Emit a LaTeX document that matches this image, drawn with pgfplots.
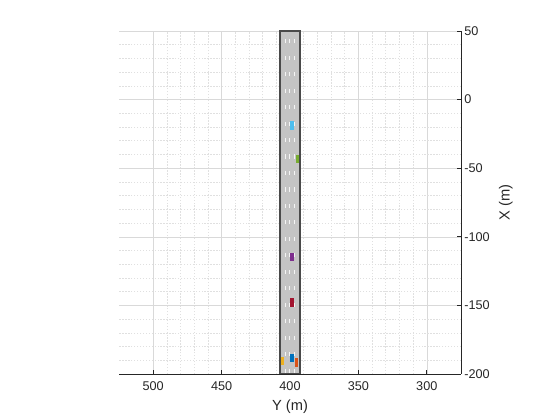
\documentclass[border=0pt]{standalone}
\usepackage{pgfplots}
\pgfplotsset{compat=1.18}
\usepackage{fontspec}
\setmainfont{Liberation Sans}
\definecolor{axcol}{HTML}{262626}
\definecolor{roadfill}{HTML}{C4C4C4}
\definecolor{roadedge}{HTML}{4A4A4A}
\definecolor{mblue}{HTML}{0072BD}
\definecolor{morange}{HTML}{D95319}
\definecolor{myellow}{HTML}{EDB120}
\definecolor{mpurple}{HTML}{7E2F8E}
\definecolor{mgreen}{HTML}{77AC30}
\definecolor{mcyan}{HTML}{4DBEEE}
\definecolor{mred}{HTML}{A2142F}

\begin{document}
\begin{tikzpicture}
% page = 560x420 px at 0.75pt per px
\useasboundingbox (-89.25pt,-34.5pt) rectangle (330.75pt,280.5pt);
\begin{axis}[
  scale only axis,
  width=256.5pt, height=257.25pt,
  x dir=reverse,
  xmin=275, xmax=525, ymin=-200, ymax=50,
  axis x line=bottom, axis y line=right,
  axis line style={-, axcol, line width=0.6pt},
  xtick={300,350,...,500}, ytick={-200,-150,...,50},
  minor tick num=4,
  tick align=inside, major tick length=3pt, minor tick length=0pt,
  tick style={axcol, line width=0.5pt},
  grid=both,
  major grid style={line width=0.4pt, black!15},
  minor grid style={line width=0.4pt, black!12, dash pattern=on 1pt off 1.2pt},
  /pgf/number format/assume math mode=true,
  tick label style={font=\fontsize{9.5}{11}\selectfont, text=axcol},
  xticklabel style={yshift=-2pt},
  yticklabel style={xshift=-1pt},
  xlabel={Y (m)}, ylabel={X (m)},
  label style={font=\fontsize{11}{13}\selectfont, text=axcol},
  clip=true,
]
% road surface
\addplot[fill=roadfill, draw=roadedge, line width=1.3pt]
  coordinates {(392.7,-200) (407.3,-200) (407.3,50) (392.7,50)} -- cycle;
% lane markings (3 m dash, 9 m gap)
\addplot[white!92!gray, line width=0.75pt, dash pattern=on 3.1pt off 9.25pt, dash phase=-1pt]
  coordinates {(396.35,-200) (396.35,50)};
\addplot[white!92!gray, line width=0.75pt, dash pattern=on 3.1pt off 9.25pt, dash phase=-1pt]
  coordinates {(400,-200) (400,50)};
\addplot[white!92!gray, line width=0.75pt, dash pattern=on 3.1pt off 9.25pt, dash phase=-1pt]
  coordinates {(403.65,-200) (403.65,50)};
% vehicles
\addplot[fill=mcyan, draw=none]
  coordinates {(397.3,-21.9) (399.7,-21.9) (399.7,-15.9) (397.3,-15.9)} -- cycle;
\addplot[fill=mgreen, draw=none]
  coordinates {(393.3,-46.3) (395.7,-46.3) (395.7,-40.3) (393.3,-40.3)} -- cycle;
\addplot[fill=mpurple, draw=none]
  coordinates {(397.3,-118.0) (399.7,-118.0) (399.7,-112.0) (397.3,-112.0)} -- cycle;
\addplot[fill=mred, draw=none]
  coordinates {(397.3,-150.9) (399.7,-150.9) (399.7,-144.9) (397.3,-144.9)} -- cycle;
\addplot[fill=myellow, draw=none]
  coordinates {(404.3,-193.5) (406.7,-193.5) (406.7,-187.5) (404.3,-187.5)} -- cycle;
\addplot[fill=mblue, draw=none]
  coordinates {(397.3,-191.3) (399.7,-191.3) (399.7,-185.3) (397.3,-185.3)} -- cycle;
\addplot[fill=morange, draw=none]
  coordinates {(394.1,-194.6) (396.5,-194.6) (396.5,-188.6) (394.1,-188.6)} -- cycle;
\end{axis}
\end{tikzpicture}
\end{document}
